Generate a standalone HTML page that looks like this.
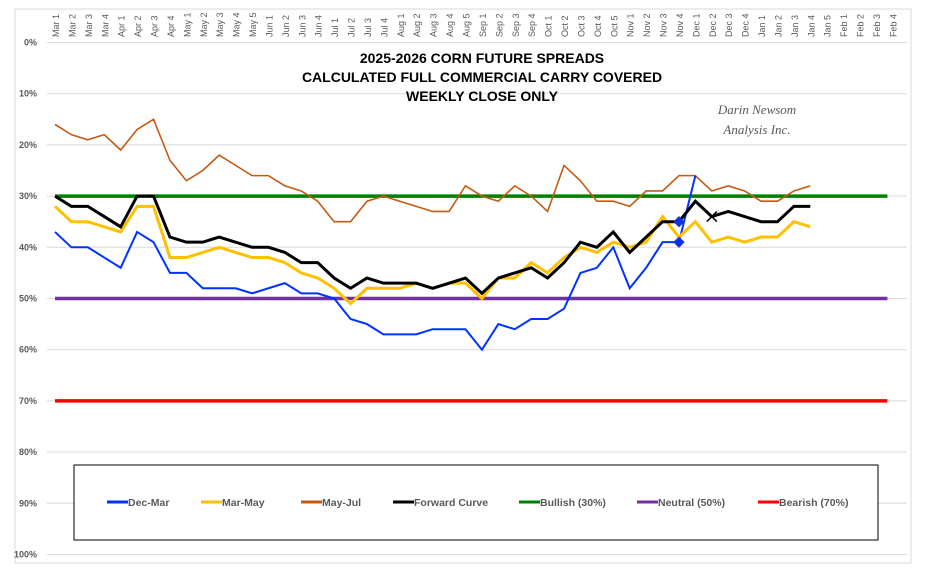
<!DOCTYPE html>
<html><head><meta charset="utf-8">
<style>
html,body{margin:0;padding:0;background:#fff;}
svg{display:block;font-family:"Liberation Sans",sans-serif;}
</style></head>
<body>
<svg id="chart" width="926" height="576" viewBox="0 0 926 576">
<rect x="15" y="9" width="896" height="554" fill="#fff" stroke="#d9d9d9"/>
<g id="grid"></g>
<g id="yticks"></g>
<g id="xticks"></g>
<g id="series"></g>
<g font-weight="bold" font-size="14" text-anchor="middle" fill="#000">
<text x="482" y="63">2025-2026 CORN FUTURE SPREADS</text>
<text x="482" y="82">CALCULATED FULL COMMERCIAL CARRY COVERED</text>
<text x="482" y="101">WEEKLY CLOSE ONLY</text>
</g>
<g font-family="'Liberation Serif',serif" font-style="italic" font-size="13" fill="#595959" text-anchor="middle">
<text x="757" y="114">Darin Newsom</text>
<text x="757" y="134">Analysis Inc.</text>
</g>
<g id="legend">
<rect x="74" y="465" width="804" height="75" fill="#fff" stroke="#000" stroke-width="1"/>
</g>
</svg>
<script>
const categories=["Mar 1","Mar 2","Mar 3","Mar 4","Apr 1","Apr 2","Apr 3","Apr 4","May 1","May 2","May 3","May 4","May 5","Jun 1","Jun 2","Jun 3","Jun 4","Jul 1","Jul 2","Jul 3","Jul 4","Aug 1","Aug 2","Aug 3","Aug 4","Aug 5","Sep 1","Sep 2","Sep 3","Sep 4","Oct 1","Oct 2","Oct 3","Oct 4","Oct 5","Nov 1","Nov 2","Nov 3","Nov 4","Dec 1","Dec 2","Dec 3","Dec 4","Jan 1","Jan 2","Jan 3","Jan 4","Jan 5","Feb 1","Feb 2","Feb 3","Feb 4"];
const yTicks=[0,10,20,30,40,50,60,70,80,90,100];
const decMar=[37,40,40,42,44,37,39,45,45,48,48,48,49,48,47,49,49,50,54,55,57,57,57,56,56,56,60,55,56,54,54,52,45,44,40,48,44,39,39,26];
const marMay=[32,35,35,36,37,32,32,42,42,41,40,41,42,42,43,45,46,48,51,48,48,48,47,48,47,47,50,46,46,43,45,42,40,41,39,40,39,34,38,35,39,38,39,38,38,35,36];
const mayJul=[16,18,19,18,21,17,15,23,27,25,22,24,26,26,28,29,31,35,35,31,30,31,32,33,33,28,30,31,28,30,33,24,27,31,31,32,29,29,26,26,29,28,29,31,31,29,28];
const forward=[30,32,32,34,36,30,30,38,39,39,38,39,40,40,41,43,43,46,48,46,47,47,47,48,47,46,49,46,45,44,46,43,39,40,37,41,38,35,35,31,34,33,34,35,35,32,32];
const bullish=30, neutral=50, bearish=70;
const markerIdx=38, xMarkerIdx=40;
const markerFwd=35, markerDec=39, xMarkerVal=34;

const NS="http://www.w3.org/2000/svg";
const X0=55, STEP=16.42, Y0=42.5, YSCALE=5.12;
const xs=i=>X0+i*STEP;
const ys=v=>Y0+v*YSCALE;
function mk(tag,attrs,parent){const e=document.createElementNS(NS,tag);for(const k in attrs)e.setAttribute(k,attrs[k]);parent.appendChild(e);return e;}
const grid=document.getElementById('grid'),yt=document.getElementById('yticks'),xt=document.getElementById('xticks'),ser=document.getElementById('series'),leg=document.getElementById('legend');
yTicks.forEach(v=>{
  const l=mk('line',{x1:47,x2:907,y1:ys(v),y2:ys(v),stroke:'#d9d9d9','stroke-width':1},grid);
  
  
  const t=mk('text',{x:37,y:ys(v)+3,'text-anchor':'end','font-size':9,'font-weight':'bold',fill:'#595959'},yt);
  t.textContent=v+'%';
  
  
});
categories.forEach((c,i)=>{
  const x=xs(i)+1;
  const t=mk('text',{x:0,y:0,transform:`translate(${x+3},37) rotate(-90)`,'font-size':9,fill:'#595959'},xt);
  t.textContent=c;
  
  
});
function hline(v,color,name){
  const l=mk('line',{x1:xs(0),x2:xs(categories.length-1)-5,y1:ys(v),y2:ys(v),stroke:color,'stroke-width':3.5},ser);
  
  
}
hline(bullish,'#008000','bullish-line');
hline(neutral,'#7030a0','neutral-line');
hline(bearish,'#ff0000','bearish-line');
function poly(arr,color,w,name){
  const p=mk('polyline',{points:arr.map((v,i)=>xs(i)+','+ys(v)).join(' '),fill:'none',stroke:color,'stroke-width':w,'stroke-linejoin':'miter'},ser);
  
  
}
poly(mayJul,'#c55a11',1.6,'may-jul-line');
poly(decMar,'#0033ff',2,'dec-mar-line');
poly(marMay,'#ffc000',3,'mar-may-line');
poly(forward,'#000000',3,'forward-curve-line');
function diamond(i,v,name){
  const x=xs(i),y=ys(v);
  const d=mk('polygon',{points:`${x},${y-5} ${x+5},${y} ${x},${y+5} ${x-5},${y}`,fill:'#0033ff',stroke:'#3333aa','stroke-width':1},ser);
  
  
}
diamond(markerIdx,markerFwd,'forward-marker');
diamond(markerIdx,markerDec,'dec-mar-marker');
{
  const x=xs(xMarkerIdx),y=ys(xMarkerVal);
  const g=mk('path',{d:`M${x-5},${y-5}L${x+5},${y+5}M${x-5},${y+5}L${x+5},${y-5}`,stroke:'#000','stroke-width':1.5},ser);
  
  
}
const legendItems=[["Dec-Mar","#0033ff",107],["Mar-May","#ffc000",201],["May-Jul","#c55a11",301],["Forward Curve","#000000",393],["Bullish (30%)","#008000",519],["Neutral (50%)","#7030a0",637],["Bearish (70%)","#ff0000",758]];
legendItems.forEach(([n,c,x])=>{
  const g=mk('g',{},leg);
  
  
  mk('line',{x1:x,x2:x+21,y1:502,y2:502,stroke:c,'stroke-width':3},g);
  const t=mk('text',{x:x+21,y:506,'font-size':10.5,'font-weight':'bold',fill:'#595959'},g);
  t.textContent=n;
});
</script>
</body></html>
